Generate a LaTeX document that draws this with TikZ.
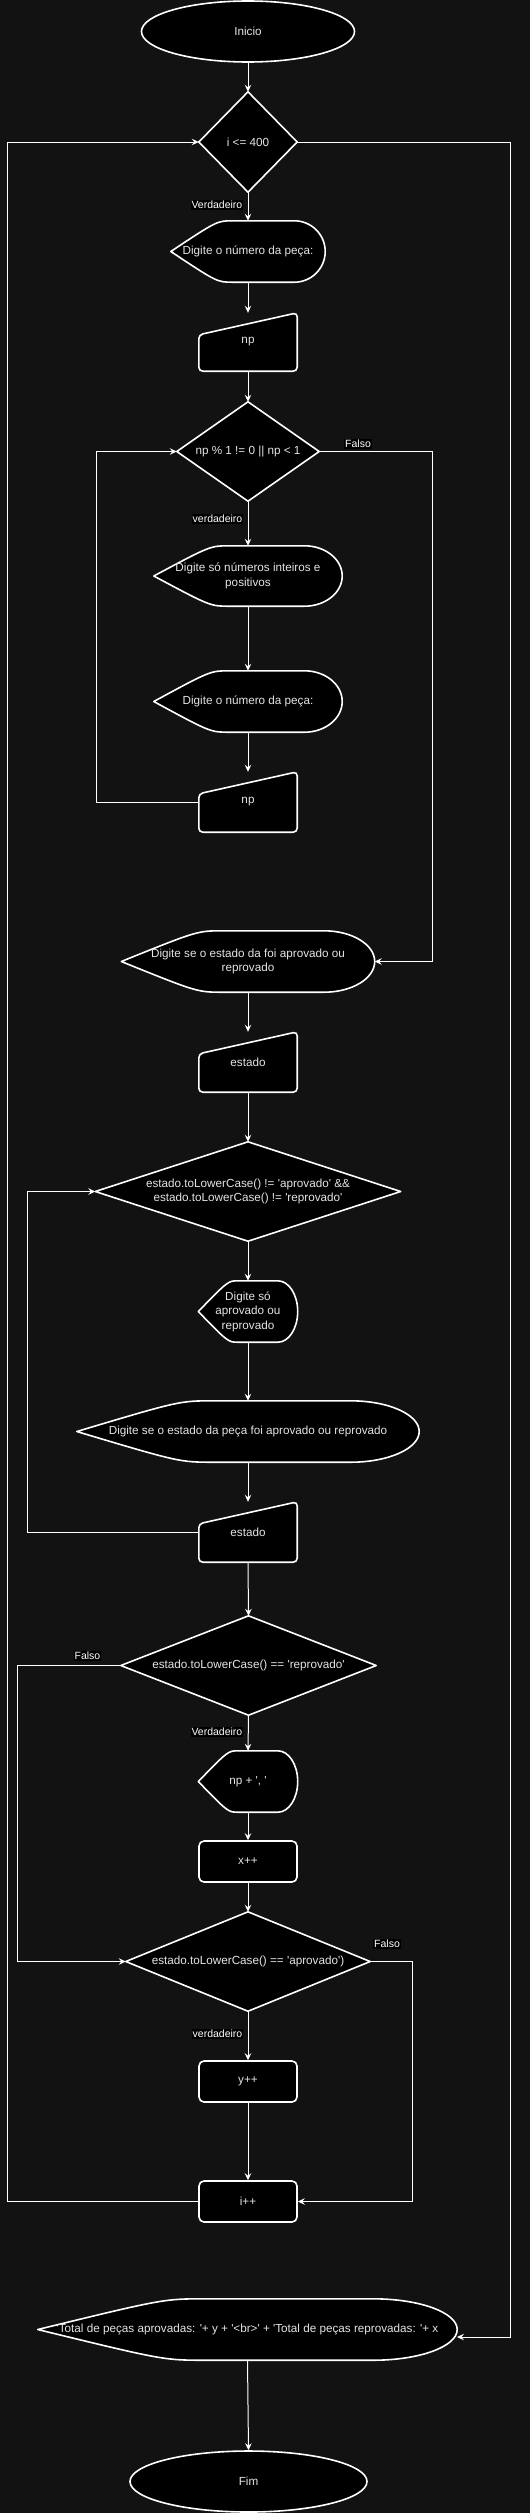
\documentclass[tikz,border=0pt]{standalone}
\usepackage{fontspec}
\setmainfont{Liberation Sans}
\usetikzlibrary{arrows.meta,calc,shapes.geometric}
\pgfdeclarelayer{bgl}
\pgfdeclarelayer{shl}
\pgfsetlayers{bgl,shl,main}
\definecolor{bgc}{RGB}{18,18,18}
\definecolor{txc}{RGB}{228,228,228}
\newcommand\q{\textquotesingle}
% display shape (draw.io "display")
\newcommand\dispshape[1]{%
  \draw[shp] (#1.west)
   .. controls ($(#1.north west)!0.3!(#1.north east)$) .. ($(#1.north west)!0.4!(#1.north east)$)
   -- ($(#1.north west)!0.8!(#1.north east)$)
   .. controls ($(#1.north west)!0.9105!(#1.north east)$) and ($(#1.north east)!0.2238!(#1.south east)$) .. (#1.east)
   .. controls ($(#1.south east)!0.2238!(#1.north east)$) and ($(#1.south west)!0.9105!(#1.south east)$) .. ($(#1.south west)!0.8!(#1.south east)$)
   -- ($(#1.south west)!0.4!(#1.south east)$)
   .. controls ($(#1.south west)!0.3!(#1.south east)$) .. (#1.west) -- cycle;}
% manual input shape
\newcommand\manshape[1]{%
  \draw[shp,rounded corners=4pt] ($(#1.north west)+(0,22)$) -- (#1.north east) -- (#1.south east) -- (#1.south west) -- cycle;}
% decision shape
\newcommand\decshape[1]{%
  \draw[shp] (#1.north) -- (#1.east) -- (#1.south) -- (#1.west) -- cycle;}
\begin{document}
\begin{tikzpicture}[x=1pt,y=-1pt,
  txt/.style={text=txc,align=center,font=\fontsize{11.7}{14.5}\selectfont},
  box/.style 2 args={rectangle,draw=none,inner sep=0pt,minimum width=#1,minimum height=#2,txt},
  term/.style 2 args={ellipse,draw=white,fill=black,line width=1.6pt,inner sep=0pt,minimum width=#1,minimum height=#2,txt},
  proc/.style={rectangle,rounded corners=5pt,draw=white,fill=black,line width=1.6pt,inner sep=0pt,minimum width=98pt,minimum height=41pt,txt},
  shp/.style={draw=white,fill=black,line width=1.6pt,line join=round},
  conn/.style={draw=white,line width=1pt,-{Stealth[length=7pt,width=6.5pt,inset=2.5pt]}},
  lbl/.style={fill=black,text=white,inner sep=1pt,font=\fontsize{10.5}{12}\selectfont}]
\useasboundingbox (0,0) rectangle (530,2513);
\begin{pgfonlayer}{bgl}
  \fill[bgc] (0,0) rectangle (530,2513);
\end{pgfonlayer}

% nodes
\node[term={213pt}{61pt}] (inicio) at (248,31.5) {Inicio};
\node[box={98pt}{100pt}] (d1) at (248,142) {i <= 400};
\node[box={154pt}{61pt}] (out1) at (248,251.5) {Digite o número da peça:};
\node[box={98pt}{58pt}] (in1) at (248,342) {np};
\node[box={142pt}{99pt}] (d2) at (248,451.5) {np \% 1 != 0 || np < 1};
\node[box={188pt}{60pt}] (out2) at (248,576) {Digite só números inteiros e\\positivos};
\node[box={188pt}{61pt}] (out3) at (248,701.5) {Digite o número da peça:};
\node[box={98pt}{60pt}] (in2) at (248,802) {np};
\node[box={253pt}{61pt}] (out4) at (248,961.5) {Digite se o estado da foi aprovado ou\\reprovado};
\node[box={98pt}{60pt}] (in3) at (248,1062) {estado};
\node[box={305pt}{99pt}] (d3) at (248,1191.5) {estado.toLowerCase() != \q aprovado\q{} \&\&\\estado.toLowerCase() != \q reprovado\q};
\node[box={99pt}{61pt}] (out5) at (248,1311.5) {Digite só\\aprovado ou\\reprovado};
\node[box={342pt}{61pt}] (out6) at (248,1431.5) {Digite se o estado da peça foi aprovado ou reprovado};
\node[box={98pt}{60pt}] (in4) at (248,1532) {estado};
\node[box={255pt}{99pt}] (d4) at (248.5,1665.5) {estado.toLowerCase() == \q reprovado\q};
\node[box={99pt}{61pt}] (out7) at (248,1781.5) {np + \q, \q};
\node[proc] (xpp) at (248,1861.5) {x++};
\node[box={244pt}{99pt}] (d5) at (248,1961.5) {estado.toLowerCase() == \q aprovado\q)};
\node[proc] (ypp) at (248,2081.5) {y++};
\node[proc] (ipp) at (248,2201.5) {i++};
\node[box={419pt}{61pt}] (out8) at (247.5,2329.5) {\q Total de peças aprovadas: \q+ y + \q<br>\q{} + \q Total de peças reprovadas: \q+ x};
\node[term={237pt}{61pt}] (fim) at (248.5,2481.5) {Fim};

% outlines of custom shapes
\begin{pgfonlayer}{shl}
  \decshape{d1}\decshape{d2}\decshape{d3}\decshape{d4}\decshape{d5}
  \dispshape{out1}\dispshape{out2}\dispshape{out3}\dispshape{out4}
  \dispshape{out5}\dispshape{out6}\dispshape{out7}\dispshape{out8}
  \manshape{in1}\manshape{in2}\manshape{in3}\manshape{in4}
\end{pgfonlayer}

% helper coordinates
\coordinate (c2r) at (432,451.5);
\coordinate (c2l) at (96,802);
\coordinate (c3l) at (27,1532);
\coordinate (c4l) at (17,1665.5);
\coordinate (c5r) at (412,1961.5);
\coordinate (c1l) at (7,2201.5);
\coordinate (c1r) at (510,142);
\coordinate (c8e) at (457,2337);

% connectors
\draw[conn] (inicio.south) -- (d1.north);
\draw[conn] (d1.south) -- (out1.north);
\draw[conn] (out1.south) -- (in1.north);
\draw[conn] (in1.south) -- (d2.north);
\draw[conn] (d2.south) -- (out2.north);
\draw[conn] (d2.east) -- (c2r) |- (out4.east);
\draw[conn] (out2.south) -- (out3.north);
\draw[conn] (out3.south) -- (in2.north);
\draw[conn] (in2.west) -- (c2l) |- (d2.west);
\draw[conn] (out4.south) -- (in3.north);
\draw[conn] (in3.south) -- (d3.north);
\draw[conn] (d3.south) -- (out5.north);
\draw[conn] (out5.south) -- (out6.north);
\draw[conn] (out6.south) -- (in4.north);
\draw[conn] (in4.west) -- (c3l) |- (d3.west);
\draw[conn] (in4.south) -- (d4.north);
\draw[conn] (d4.west) -- (c4l) |- (d5.west);
\draw[conn] (d4.south) -- (out7.north);
\draw[conn] (out7.south) -- (xpp.north);
\draw[conn] (xpp.south) -- (d5.north);
\draw[conn] (d5.south) -- (ypp.north);
\draw[conn] (d5.east) -- (c5r) |- (ipp.east);
\draw[conn] (ypp.south) -- (ipp.north);
\draw[conn] (ipp.west) -- (c1l) |- (d1.west);
\draw[conn] (d1.east) -- (c1r) |- (c8e);
\draw[conn] (out8.south) -- (fim.north);

% edge labels
\node[lbl,anchor=east] (l1) at (243.5,205) {Verdadeiro};
\node[lbl,anchor=east] (l2) at (243.5,519) {verdadeiro};
\node[lbl] (l3) at (358,444) {Falso};
\node[lbl] (l4) at (87.5,1656) {Falso};
\node[lbl,anchor=east] (l5) at (243.5,1732) {Verdadeiro};
\node[lbl] (l6) at (387,1944) {Falso};
\node[lbl,anchor=east] (l7) at (243.5,2034) {verdadeiro};
\end{tikzpicture}
\end{document}
